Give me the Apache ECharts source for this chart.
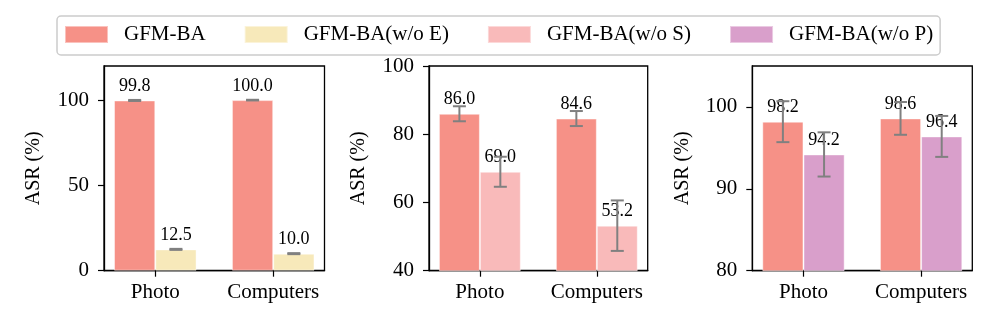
<!DOCTYPE html>
<html>
<head>
<meta charset="utf-8">
<script src="https://cdn.jsdelivr.net/npm/echarts@6/dist/echarts.min.js"></script>
<style>
html,body{margin:0;padding:0;background:#fff;}
#chart{width:997px;height:332px;}
</style>
</head>
<body>
<div id="chart"></div>
<script>
// ---- data ----
const categories = ['Photo', 'Computers'];
const legendNames = ['GFM-BA', 'GFM-BA(w/o E)', 'GFM-BA(w/o S)', 'GFM-BA(w/o P)'];

// panel 1: GFM-BA vs w/o E
const p1Full = [99.8, 100.0];
const p1FullErr = [0.3, 0.2];
const p1WoE = [12.5, 10.0];
const p1WoEErr = [0.3, 0.3];

// panel 2: GFM-BA vs w/o S
const p2Full = [86.0, 84.6];
const p2FullErr = [2.2, 2.2];
const p2WoS = [69.0, 53.2];
const p2WoSErr = [4.4, 7.4];

// panel 3: GFM-BA vs w/o P
const p3Full = [98.2, 98.6];
const p3FullErr = [2.5, 2.0];
const p3WoP = [94.2, 96.4];
const p3WoPErr = [2.7, 2.5];

// y-axis ranges and tick values
const p1Y = {min: 0, max: 120, ticks: [0, 50, 100]};
const p2Y = {min: 40, max: 100, ticks: [40, 60, 80, 100]};
const p3Y = {min: 80, max: 105, ticks: [80, 90, 100]};

// ---- styles ----
const FONT = 'Liberation Serif';
const colors = {
  'GFM-BA': '#F69187',
  'GFM-BA(w/o E)': '#F7E9BA',
  'GFM-BA(w/o S)': '#F9BABA',
  'GFM-BA(w/o P)': '#D99FCB'
};
const BAR_W = 0.35; // bar width in category units
const X_MIN = -0.435, X_MAX = 1.435;
const ERR_COLOR = '#808080';

const panels = [
  {left: 104, width: 220.5, y: p1Y, series: [['GFM-BA', p1Full, p1FullErr], ['GFM-BA(w/o E)', p1WoE, p1WoEErr]]},
  {left: 429, width: 218.7, y: p2Y, series: [['GFM-BA', p2Full, p2FullErr], ['GFM-BA(w/o S)', p2WoS, p2WoSErr]]},
  {left: 752.3, width: 220, y: p3Y, series: [['GFM-BA', p3Full, p3FullErr], ['GFM-BA(w/o P)', p3WoP, p3WoPErr]]}
];

const grids = [], xAxes = [], yAxes = [], series = [];
const catIdx = categories.map((c, i) => i);

panels.forEach((p, pi) => {
  grids.push({
    left: p.left, width: p.width, top: 66, bottom: 61.3,
    show: true, borderColor: '#000', borderWidth: 1.3, backgroundColor: 'transparent'
  });
  xAxes.push({
    type: 'value', gridIndex: pi, min: X_MIN, max: X_MAX,
    splitLine: {show: false},
    axisLine: {show: true, onZero: false, lineStyle: {color: '#000', width: 1.3}},
    axisTick: {show: true, inside: false, length: 6, lineStyle: {color: '#000', width: 1.2}, customValues: catIdx},
    axisLabel: {
      customValues: catIdx, margin: 11,
      formatter: v => categories[Math.round(v)],
      fontFamily: FONT, fontSize: 21, color: '#000'
    }
  });
  yAxes.push({
    type: 'value', gridIndex: pi, min: p.y.min, max: p.y.max,
    name: 'ASR (%)', nameLocation: 'middle', nameRotate: 90, nameGap: 60,
    nameTextStyle: {fontFamily: FONT, fontSize: 20, color: '#000'},
    splitLine: {show: false},
    axisLine: {show: true, onZero: false, lineStyle: {color: '#000', width: 1.3}},
    axisTick: {show: true, inside: false, length: 6, lineStyle: {color: '#000', width: 1.2}, customValues: p.y.ticks},
    axisLabel: {customValues: p.y.ticks, margin: 15, fontFamily: FONT, fontSize: 21, color: '#000'}
  });
  p.series.forEach(([name, vals, errs], si) => {
    series.push({
      type: 'bar', name: name, xAxisIndex: pi, yAxisIndex: pi,
      data: vals.map((v, i) => [i, v]),
      barWidth: (BAR_W * 100) + '%', barGap: '0%',
      itemStyle: {color: colors[name], borderColor: 'rgba(255,255,255,0.45)', borderWidth: 1},
      label: {
        show: true, position: 'top', distance: 5,
        fontFamily: FONT, fontSize: 18, color: '#000',
        formatter: q => q.value[1].toFixed(1)
      },
      z: 2
    });
    const dir = si === 0 ? -1 : 1;
    series.push({
      type: 'custom', xAxisIndex: pi, yAxisIndex: pi, z: 10, silent: true,
      data: vals.map((v, i) => [i, v, errs[i]]),
      renderItem: (params, api) => {
        const x = api.value(0) + dir * BAR_W / 2;
        const m = api.value(1), e = api.value(2);
        const top = api.coord([x, m + e]);
        const bot = api.coord([x, m - e]);
        const cap = 6.5;
        const st = {stroke: ERR_COLOR, lineWidth: 2};
        return {
          type: 'group',
          children: [
            {type: 'line', shape: {x1: top[0], y1: top[1], x2: bot[0], y2: bot[1]}, style: st},
            {type: 'line', shape: {x1: top[0] - cap, y1: top[1], x2: top[0] + cap, y2: top[1]}, style: st},
            {type: 'line', shape: {x1: bot[0] - cap, y1: bot[1], x2: bot[0] + cap, y2: bot[1]}, style: st}
          ]
        };
      }
    });
  });
});

const chart = echarts.init(document.getElementById('chart'), null, {renderer: 'canvas'});
chart.setOption({
  animation: false,
  backgroundColor: '#fff',
  legend: {
    data: legendNames, selectedMode: false,
    left: 57, top: 16,
    padding: [8, 7, 10, 7],
    itemWidth: 43, itemHeight: 17, itemGap: 38,
    icon: 'rect',
    borderColor: '#cccccc', borderWidth: 1.5, borderRadius: 4,
    backgroundColor: '#fff',
    textStyle: {fontFamily: FONT, fontSize: 21, color: '#000', padding: [0, 0, 0, 11]}
  },
  grid: grids,
  xAxis: xAxes,
  yAxis: yAxes,
  series: series
});
</script>
</body>
</html>
